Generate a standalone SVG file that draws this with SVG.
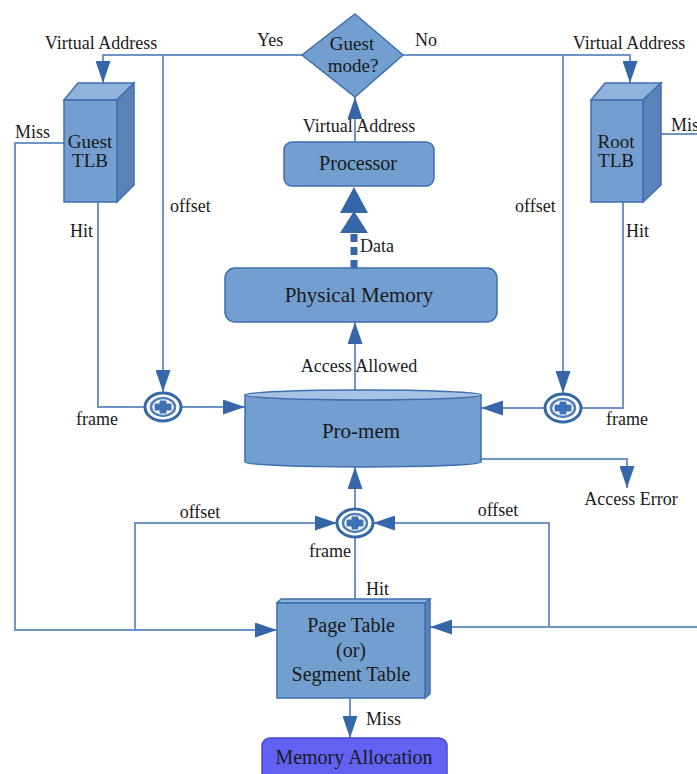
<svg xmlns="http://www.w3.org/2000/svg" width="697" height="774" viewBox="0 0 697 774">
<defs>
<style>
.ln{fill:none;stroke:#6f95c8;stroke-width:2}
.node{fill:#729fcf;stroke:#3f6fae;stroke-width:1.5}
.top{fill:#8fb3dd;stroke:#3f6fae;stroke-width:1.5}
.side{fill:#5a84b9;stroke:#3f6fae;stroke-width:1.5}
.t{font-family:"Liberation Serif",serif;font-size:18px;fill:#1a1a1a}
.tn{font-family:"Liberation Serif",serif;font-size:20px;fill:#1a1a1a;text-anchor:middle}
.tb{font-family:"Liberation Serif",serif;font-size:21px;fill:#1a1a1a;text-anchor:middle}
.c{text-anchor:middle}
.ah{fill:#3466a8}
.add-o{fill:#ffffff;stroke:#3466a8;stroke-width:3}
.add-i{fill:#ffffff;stroke:#4f7fbd;stroke-width:2.5}
</style>
<marker id="ah" markerWidth="22" markerHeight="15" refX="22" refY="7.5" orient="auto" markerUnits="userSpaceOnUse"><path d="M0,0 L22,7.5 L0,15 z" class="ah"/></marker>
<g id="adder">
<ellipse cx="0" cy="0" rx="18" ry="14" class="add-o"/>
<ellipse cx="0" cy="0" rx="12" ry="9" class="add-i"/>
<path d="M-3,-6 H3 V-3 H8 V3 H3 V6 H-3 V3 H-8 V-3 H-3 Z" fill="#3f72b4" stroke="#3f72b4" stroke-width="1" stroke-linejoin="round"/>
</g>
</defs>
<rect width="697" height="774" fill="#ffffff"/>

<g id="connectors">
<!-- top branches -->
<path class="ln" d="M302,55 H103 V83" marker-end="url(#ah)"/>
<path class="ln" d="M163,55 V392" marker-end="url(#ah)"/>
<path class="ln" d="M403,55 H630 V83" marker-end="url(#ah)"/>
<path class="ln" d="M563,55 V393" marker-end="url(#ah)"/>
<!-- processor to diamond -->
<path class="ln" d="M355,142 V97" marker-end="url(#ah)"/>
<!-- data -->
<line x1="354" y1="268" x2="354" y2="232" stroke="#3466a8" stroke-width="7" stroke-dasharray="8 5"/>
<polygon class="ah" points="354,211 368,233 340,233"/>
<polygon class="ah" points="354,187 368,213 340,213"/>
<!-- access allowed -->
<path class="ln" d="M355,390 V322" marker-end="url(#ah)"/>
<!-- guest TLB hit / miss -->
<path class="ln" d="M98,202 V407 H145"/>
<path class="ln" d="M64,143 H15 V630 H277" marker-end="url(#ah)"/>
<path class="ln" d="M181,407 H245" marker-end="url(#ah)"/>
<!-- root TLB hit / miss -->
<path class="ln" d="M623,202 V408 H581"/>
<path class="ln" d="M661,134 H697"/>
<path class="ln" d="M697,627 H430" marker-end="url(#ah)"/>
<path class="ln" d="M545,408 H481" marker-end="url(#ah)"/>
<!-- access error -->
<path class="ln" d="M481,459 H627 V488" marker-end="url(#ah)"/>
<!-- bottom adder -->
<path class="ln" d="M355,509 V467" marker-end="url(#ah)"/>
<path class="ln" d="M135,630 V523 H337" marker-end="url(#ah)"/>
<path class="ln" d="M549,627 V523 H373" marker-end="url(#ah)"/>
<path class="ln" d="M355,599 V537"/>
<!-- page table miss -->
<path class="ln" d="M350,698 V738" marker-end="url(#ah)"/>
</g>

<g id="guest-mode">
<polygon class="node" points="355,14 403,55 355,97 302,55"/>
<text class="tn" x="352" y="50" style="font-size:19px">Guest</text>
<text class="tn" x="353" y="72" style="font-size:19px">mode?</text>
</g>

<g id="guest-tlb">
<polygon class="top" points="64,100 78,83 134,83 117,100"/>
<polygon class="side" points="117,100 134,83 134,185 117,202"/>
<rect class="node" x="64" y="100" width="53" height="102"/>
<text class="tn" x="90" y="148" style="font-size:19px">Guest</text>
<text class="tn" x="90" y="167" style="font-size:19px">TLB</text>
</g>

<g id="root-tlb">
<polygon class="top" points="591,100 605,83 661,83 643,100"/>
<polygon class="side" points="643,100 661,83 661,185 643,202"/>
<rect class="node" x="591" y="100" width="52" height="102"/>
<text class="tn" x="616" y="148" style="font-size:19px">Root</text>
<text class="tn" x="616" y="167" style="font-size:19px">TLB</text>
</g>

<g id="processor">
<rect class="node" x="284" y="142" width="150" height="44" rx="8"/>
<text class="tn" x="358" y="170">Processor</text>
</g>

<g id="physical-memory">
<rect class="node" x="225" y="268" width="272" height="54" rx="10"/>
<text class="tb" x="359" y="302">Physical Memory</text>
</g>

<g id="pro-mem">
<path class="node" d="M245,395 V462 A118,5 0 0 0 481,462 V395 Z"/>
<ellipse class="top" cx="363" cy="395" rx="118" ry="5" style="fill:#a6c3e6"/>
<text class="tb" x="361" y="438">Pro-mem</text>
</g>

<g id="adder-left"><use href="#adder" x="163" y="407"/></g>
<g id="adder-right"><use href="#adder" x="563" y="408"/></g>
<g id="adder-bottom"><use href="#adder" x="355" y="523"/></g>

<g id="page-table">
<polygon class="top" points="277,603 281,599 430,599 425,603"/>
<polygon class="side" points="425,603 430,599 430,694 425,698"/>
<rect class="node" x="277" y="603" width="148" height="95"/>
<text class="tb" x="351" y="632" style="font-size:20px">Page Table</text>
<text class="tb" x="351" y="657" style="font-size:20px">(or)</text>
<text class="tb" x="351" y="681" style="font-size:20px">Segment Table</text>
</g>

<g id="memory-allocation">
<rect x="262" y="738" width="185" height="50" rx="8" fill="#6262f2" stroke="#4a4ad2" stroke-width="1.5"/>
<text class="tn" x="354" y="764">Memory Allocation</text>
</g>

<g id="labels">
<text class="t c" x="101" y="49">Virtual Address</text>
<text class="t c" x="629" y="49">Virtual Address</text>
<text class="t" x="257" y="46">Yes</text>
<text class="t" x="415" y="46">No</text>
<text class="t c" x="359" y="132">Virtual Address</text>
<text class="t" x="15" y="138">Miss</text>
<text class="t" x="671" y="131">Miss</text>
<text class="t" x="70" y="237">Hit</text>
<text class="t" x="626" y="237">Hit</text>
<text class="t" x="170" y="212">offset</text>
<text class="t" x="515" y="212">offset</text>
<text class="t" x="360" y="252">Data</text>
<text class="t c" x="359" y="372">Access Allowed</text>
<text class="t c" x="97" y="425">frame</text>
<text class="t c" x="627" y="425">frame</text>
<text class="t c" x="631" y="505">Access Error</text>
<text class="t c" x="200" y="518">offset</text>
<text class="t c" x="498" y="516">offset</text>
<text class="t c" x="330" y="557">frame</text>
<text class="t" x="366" y="595">Hit</text>
<text class="t" x="366" y="725">Miss</text>
</g>
</svg>
